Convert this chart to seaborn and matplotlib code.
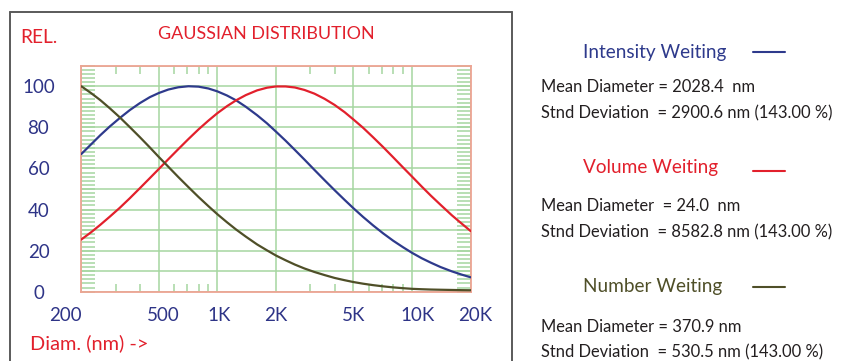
import matplotlib
matplotlib.use("Agg")
import matplotlib.pyplot as plt
from matplotlib.ticker import FixedLocator, MultipleLocator, NullFormatter
from matplotlib.lines import Line2D
from matplotlib.transforms import ScaledTranslation
import numpy as np
import pandas as pd
import seaborn as sns

# Particle diameter (nm) and relative distribution values (%)
diameter = [200, 225, 250, 280, 315, 355, 400, 450, 500, 560, 630, 710, 800, 900,
            1000, 1120, 1250, 1400, 1600, 1800, 2000, 2240, 2500, 2800, 3150, 3550,
            4000, 4500, 5000, 5600, 6300, 7100, 8000, 9000, 10000, 11200, 12500,
            14000, 16000, 18000, 20000]
intensity = [67.0, 71.8, 76.1, 80.4, 84.5, 88.4, 91.8, 94.7, 96.7, 98.4, 99.5, 100.0,
             99.8, 98.9, 97.5, 95.5, 93.1, 90.0, 85.9, 81.9, 77.9, 73.5, 69.0, 64.3,
             59.3, 54.3, 49.4, 44.7, 40.6, 36.4, 32.3, 28.4, 24.8, 21.6, 18.9, 16.3,
             14.1, 12.0, 9.9, 8.3, 7.0]
volume = [25.4, 29.0, 32.5, 36.5, 40.8, 45.5, 50.4, 55.3, 59.7, 64.5, 69.4, 74.3,
          79.0, 83.3, 86.9, 90.3, 93.2, 95.7, 98.0, 99.3, 99.9, 99.9, 99.4, 98.2,
          96.4, 93.9, 90.9, 87.4, 83.8, 79.8, 75.2, 70.4, 65.4, 60.4, 56.0, 51.2,
          46.7, 42.3, 37.2, 33.1, 29.5]
number = [100.0, 96.6, 93.3, 89.3, 84.9, 80.1, 75.2, 70.2, 65.6, 60.8, 55.8, 50.9,
          46.1, 41.6, 37.7, 33.8, 30.2, 26.8, 23.0, 20.1, 17.6, 15.3, 13.2, 11.3,
          9.6, 8.1, 6.7, 5.6, 4.7, 3.9, 3.2, 2.6, 2.1, 1.7, 1.4, 1.2, 1.05,
          0.95, 0.85, 0.75, 0.7]

x_ticks = [200, 500, 1000, 2000, 5000, 10000, 20000]
x_tick_labels = ["200", "500", "1K", "2K", "5K", "10K", "20K"]
x_minor = [300, 400, 600, 700, 800, 900, 3000, 4000, 6000, 7000, 8000, 9000]
y_tick_labels = ["0", "20", "40", "60", "80", "100"]

summary = [
    ("Intensity Weiting", "Mean Diameter = 2028.4  nm",
     "Stnd Deviation  = 2900.6 nm (143.00 %)"),
    ("Volume Weiting", "Mean Diameter  = 24.0  nm",
     "Stnd Deviation  = 8582.8 nm (143.00 %)"),
    ("Number Weiting", "Mean Diameter = 370.9 nm",
     "Stnd Deviation  = 530.5 nm (143.00 %)"),
]

BLUE = "#2e3a8c"
RED = "#e2202c"
OLIVE = "#4f4f28"
TICKBLUE = "#2e3487"
GRID = "#a6d6a0"
SPINE = "#eda493"
TEXT = "#231f20"

sns.set_theme(style="white")
plt.rcParams["font.family"] = ["Lato", "DejaVu Sans"]

W, H = 843, 361
fig = plt.figure(figsize=(W / 100, H / 100), dpi=100)


def fx(px):
    return px / W


def fy(py):
    return 1 - py / H


L, R, T, B = 81.3, 470.7, 65.7, 291.7
ax = fig.add_axes([fx(L), fy(B), fx(R) - fx(L), (B - T) / H])

df = pd.DataFrame({"diameter": diameter, "Intensity": intensity,
                   "Volume": volume, "Number": number})
for col, c in [("Intensity", BLUE), ("Volume", RED), ("Number", OLIVE)]:
    sns.lineplot(data=df, x="diameter", y=col, color=c, linewidth=1.6, ax=ax,
                 zorder=3)

ax.set_xscale("log")
ax.set_xlim(200, 20000)
ax.set_ylim(0, 110)
ax.set_xlabel("")
ax.set_ylabel("")

# x axis: labelled decades with grid, short ticks between
ax.xaxis.set_major_locator(FixedLocator(x_ticks))
ax.set_xticklabels(x_tick_labels)
ax.xaxis.set_minor_locator(FixedLocator(x_minor))
ax.xaxis.set_minor_formatter(NullFormatter())
ax.tick_params(axis="x", which="major", length=0, pad=11, labelsize=13.5,
               labelcolor=TICKBLUE)
ax.tick_params(axis="x", which="minor", direction="in", length=6, width=1.1,
               color=GRID, top=True, bottom=True)
xlabels = ax.get_xticklabels()
xlabels[0].set_horizontalalignment("right")
# small horizontal nudges (in points) of some tick labels
for lab, dx in zip(xlabels, [0, 3, 1.5, 0, 0, 4, 3.5]):
    if dx:
        lab.set_transform(lab.get_transform()
                          + ScaledTranslation(dx / 72, 0, fig.dpi_scale_trans))

# y axis: grid every 10, labels every 20, fine ticks every 2 on both sides
ax.set_yticks(np.arange(0, 111, 10))
ax.set_yticklabels([y_tick_labels[i // 2] if i % 2 == 0 and i // 2 < len(y_tick_labels) else ""
                    for i in range(12)])
ax.yaxis.set_minor_locator(MultipleLocator(2))
ax.tick_params(axis="y", which="both", direction="in", length=10, width=1.1,
               color=GRID, left=True, right=True, pad=42.8 * 0.72,
               labelsize=13.5, labelcolor=TICKBLUE)
for lab in ax.get_yticklabels():
    lab.set_horizontalalignment("center")

ax.grid(True, which="major", color=GRID, linewidth=1.1)
for s in ax.spines.values():
    s.set_color(SPINE)
    s.set_linewidth(1.3)

# framed panel around the chart (open at the bottom)
frame_kw = dict(color="#5a5a5a", linewidth=1.4, transform=fig.transFigure)
fig.add_artist(Line2D([fx(10), fx(10)], [fy(12), 0], **frame_kw))
fig.add_artist(Line2D([fx(10), fx(512)], [fy(12), fy(12)], **frame_kw))
fig.add_artist(Line2D([fx(512), fx(512)], [fy(12), 0], **frame_kw))

fig.text(fx(20), fy(43.3), "REL.", color=RED, fontsize=13.8, va="baseline")
fig.text(fx(158), fy(39), "GAUSSIAN DISTRIBUTION", color=RED, fontsize=12.9,
         va="baseline")
fig.text(fx(30), fy(349.3), "Diam. (nm) ->", color=RED, fontsize=14.4,
         va="baseline")

# summary panel on the right
head_y = [58.3, 173.3, 291.7]
line_y = [52, 171, 287.3]
mean_y = [91.7, 210.7, 331.7]
std_y = [118.3, 237.3, 357.3]
colors = [BLUE, RED, OLIVE]
for i, (head, mean, std) in enumerate(summary):
    fig.text(fx(583), fy(head_y[i]), head, color=colors[i], fontsize=13.7,
             va="baseline")
    fig.add_artist(Line2D([fx(753), fx(785)], [fy(line_y[i]), fy(line_y[i])],
                          color=colors[i], linewidth=1.5,
                          transform=fig.transFigure))
    fig.text(fx(541), fy(mean_y[i]), mean, color=TEXT, fontsize=11.9,
             va="baseline")
    fig.text(fx(541), fy(std_y[i]), std, color=TEXT, fontsize=11.9,
             va="baseline")

fig.savefig("out.png", dpi=100)
